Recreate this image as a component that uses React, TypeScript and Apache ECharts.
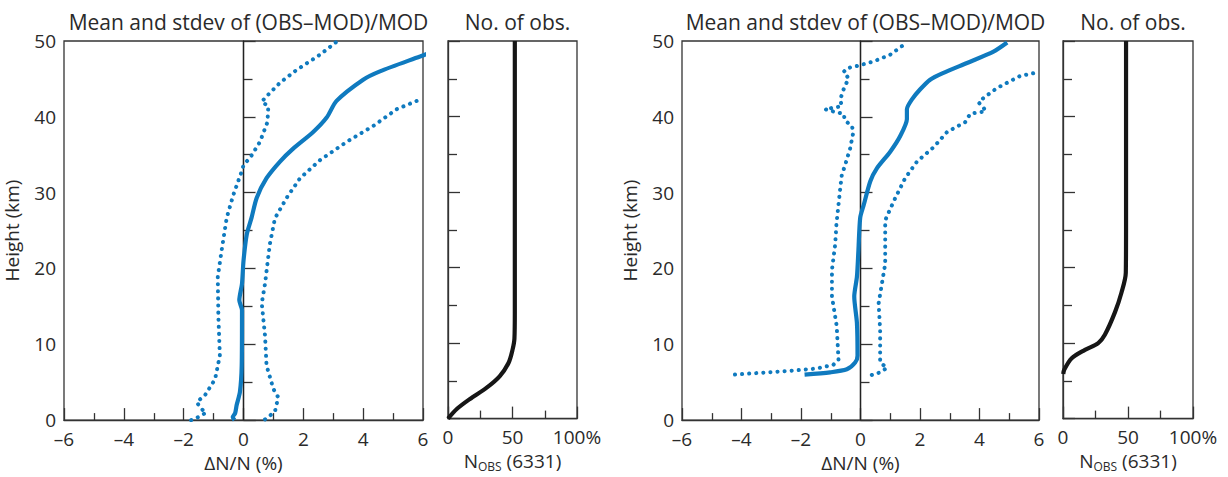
import React, { useEffect, useRef } from "react";
import * as echarts from "echarts";

// Heights in km, x in % (ΔN/N) or % of observations
const p1Mean: number[][] = [[-0.3,0],[-0.36,0.4],[-0.28,0.9],[-0.23,1.95],[-0.12,3.7],[-0.06,7.2],[-0.05,14.5],[-0.14,15.8],[-0.05,18],[0,21],[0.11,24.5],[0.27,26.7],[0.44,29.3],[0.77,31.9],[1.22,34.1],[1.66,35.8],[2.33,38],[2.78,39.9],[3.11,42.1],[4.0,44.9],[4.56,46],[5.9,47.96],[6.2,48.4]];
const p1StdLow: number[][] = [[-1.75,0],[-1.45,0.5],[-1.25,1.0],[-1.45,1.6],[-1.56,2.4],[-1.29,3.26],[-0.95,5.4],[-0.79,8.5],[-0.84,13.7],[-0.86,18.9],[-0.73,22.4],[-0.56,26.7],[-0.34,29.7],[-0.06,32.8],[0,33.6],[0.27,34.9],[0.55,36.7],[0.8,39.3],[0.83,41.4],[0.61,42],[0.77,42.7],[1.22,44.5],[1.78,46.2],[2.56,48.2],[3.11,49.9]];
const p1StdHigh: number[][] = [[0.72,0.1],[1.05,1.1],[1.16,3.0],[1.0,4.1],[0.77,7.2],[0.72,11.1],[0.61,15.4],[0.72,18],[0.88,23.2],[1.05,26.6],[1.44,29.3],[1.89,31.9],[2.56,34.3],[3.45,36.7],[4.34,38.8],[5.12,41],[5.79,42.1]];
const p2Nobs: number[][] = [[0,0],[7,1.3],[17,2.6],[30,4.1],[40,5.6],[47,7.4],[50,9.1],[51.5,10.6],[51.8,14],[51.8,50]];

const p3Mean: number[][] = [[-1.88,6.0],[-1.02,6.3],[-0.46,6.7],[-0.18,7.6],[-0.1,8.5],[-0.12,12.8],[-0.21,16.3],[-0.12,18.9],[-0.07,22.4],[-0.01,26.7],[0.11,28.4],[0.33,31.5],[0.55,33.2],[1.0,35.4],[1.34,37.5],[1.56,39.7],[1.56,41],[1.73,42.3],[2.0,43.6],[2.34,44.9],[2.79,45.8],[3.58,47.1],[4.47,48.6],[4.93,49.8]];
const p3StdLow: number[][] = [[-4.22,6.0],[-3.49,6.2],[-2.37,6.5],[-1.47,6.8],[-0.91,7.3],[-0.74,8.0],[-0.8,12.4],[-0.96,16.3],[-0.96,19.8],[-0.85,23.2],[-0.81,25.8],[-0.74,28.4],[-0.68,30.6],[-0.63,32.3],[-0.52,33.6],[-0.35,35.8],[-0.24,38],[-0.29,38.8],[-0.52,39.5],[-0.57,40.4],[-0.91,40.7],[-1.19,41],[-0.91,41.2],[-0.63,41.4],[-0.68,42.3],[-0.57,43.6],[-0.4,45.1],[-0.57,45.9],[-0.46,46.4],[-0.12,46.7],[0.44,47.3],[1.0,48.2],[1.56,49.8]];
const p3StdHigh: number[][] = [[0.38,5.95],[0.66,6.3],[0.89,6.9],[0.66,7.6],[0.66,11.9],[0.61,15.4],[0.72,18],[0.83,20.6],[0.83,26.3],[0.89,26.9],[1.17,29.3],[1.5,31.9],[1.9,34.1],[2.46,36],[2.91,38],[3.52,39.3],[3.69,40.4],[3.97,40.6],[4.2,40.7],[4.14,41.2],[3.97,41.9],[4.14,42.5],[4.59,43.8],[5.37,45.4],[5.88,45.8]];
const p4Nobs: number[][] = [[0.2,5.9],[1.0,6.5],[6.7,8.0],[16.9,9.1],[27.1,10.0],[32.2,11.1],[40,14.1],[45,16.7],[48.3,19.3],[48.5,25],[48.5,50]];

const titleMain = "Mean and stdev of (OBS\u2013MOD)/MOD";
const titleObs = "No. of obs.";
const xNameDev = "\u0394N/N (%)";
const yName = "Height (km)";

const FONT = "Open Sans";
const TXT = "#2a2a2a";
const AX = "#333";
const BLUE = "#0f7abf";
const BLACK = "#161616";
const FS = 19;

export default function App() {
  const ref = useRef<HTMLDivElement>(null);
  useEffect(() => {
    if (!ref.current) return;
    const chart = echarts.init(ref.current, null, { renderer: "svg" });
    const grids = [
      { left: 64, top: 41, width: 359, height: 384 },
      { left: 448, top: 41, width: 129, height: 384 },
      { left: 682, top: 41, width: 357, height: 384 },
      { left: 1063, top: 41, width: 130, height: 384 },
    ].map((g) => ({ ...g, show: true, borderColor: AX, borderWidth: 1.3, containLabel: false }));

    const minus = (v: number) => (v < 0 ? "\u2013" + Math.abs(v) : String(v));
    const axisCommon = {
      axisLine: { show: true, lineStyle: { color: AX, width: 1.3 } },
      axisTick: { show: true, inside: true, length: 12, lineStyle: { color: AX, width: 1.3 } },
      minorTick: { show: true, splitNumber: 2, length: 7, lineStyle: { color: AX, width: 1.3 } },
      splitLine: { show: false },
      minorSplitLine: { show: false },
      axisLabel: { color: TXT, fontSize: FS, fontFamily: FONT, lineHeight: 15 },
      nameTextStyle: { color: TXT, fontSize: FS, fontFamily: FONT },
    };
    const devX = (gi: number) => ({
      ...axisCommon,
      type: "value",
      gridIndex: gi,
      min: -6,
      max: 6,
      interval: 2,
      name: xNameDev,
      nameLocation: "middle",
      nameGap: 31,
      axisLabel: { ...axisCommon.axisLabel, margin: 11, formatter: minus },
    });
    const obsX = (gi: number) => ({
      ...axisCommon,
      type: "value",
      gridIndex: gi,
      min: 0,
      max: 100,
      interval: 50,
      minorTick: { ...axisCommon.minorTick, length: 8 },
      name: "{n|N}{s|OBS}{n| (6331)}",
      nameLocation: "middle",
      nameGap: 31,
      nameTextStyle: {
        ...axisCommon.nameTextStyle,
        rich: {
          n: { fontSize: FS, fontFamily: FONT, color: TXT },
          s: { fontSize: 12, fontFamily: FONT, color: TXT, padding: [10, 0, 0, 0] },
        },
      },
      axisLabel: { ...axisCommon.axisLabel, margin: 11, formatter: (v: number) => (v === 100 ? "100%" : String(v)) },
    });
    const hY = (gi: number, labels: boolean) => ({
      ...axisCommon,
      type: "value",
      gridIndex: gi,
      min: 0,
      max: 50,
      interval: 10,
      minorTick: { ...axisCommon.minorTick, length: 9 },
      name: labels ? yName : "",
      nameLocation: "middle",
      nameGap: 43,
      axisLabel: { ...axisCommon.axisLabel, show: labels, margin: 8 },
    });

    const meanS = (data: number[][], gi: number) => ({
      type: "line",
      xAxisIndex: gi,
      yAxisIndex: gi,
      data,
      showSymbol: false,
      smooth: 0.25,
      lineStyle: { color: BLUE, width: 4.2 },
      z: 3,
      markLine: {
        silent: true,
        symbol: ["none", "none"],
        label: { show: false },
        lineStyle: { color: "#222", width: 1.3, type: "solid" },
        data: [{ xAxis: 0 }],
        z: 1,
      },
    });
    const stdS = (data: number[][], gi: number) => ({
      type: "line",
      xAxisIndex: gi,
      yAxisIndex: gi,
      data,
      showSymbol: false,
      lineStyle: { color: BLUE, width: 4, type: [0.1, 7], cap: "round" },
      z: 3,
    });
    const obsS = (data: number[][], gi: number) => ({
      type: "line",
      xAxisIndex: gi,
      yAxisIndex: gi,
      data,
      showSymbol: false,
      smooth: 0.3,
      lineStyle: { color: BLACK, width: 4.2 },
      z: 3,
    });

    const titleStyle = { color: TXT, fontSize: 21, fontFamily: FONT, fontWeight: "normal" };
    chart.setOption({
      animation: false,
      title: [
        { text: titleMain, left: 243.5, top: 6, textAlign: "center", textStyle: titleStyle },
        { text: titleObs, left: 512.5, top: 6, textAlign: "center", textStyle: titleStyle },
        { text: titleMain, left: 860.5, top: 6, textAlign: "center", textStyle: titleStyle },
        { text: titleObs, left: 1128, top: 6, textAlign: "center", textStyle: titleStyle },
      ],
      grid: grids,
      xAxis: [devX(0), obsX(1), devX(2), obsX(3)],
      yAxis: [hY(0, true), hY(1, false), hY(2, true), hY(3, false)],
      series: [
        meanS(p1Mean, 0),
        stdS(p1StdLow, 0),
        stdS(p1StdHigh, 0),
        obsS(p2Nobs, 1),
        meanS(p3Mean, 2),
        stdS(p3StdLow, 2),
        stdS(p3StdHigh, 2),
        obsS(p4Nobs, 3),
      ],
    });
    return () => chart.dispose();
  }, []);
  return (
    <div
      ref={ref}
      style={{ position: "fixed", left: 0, top: 0, width: 1228, height: 477, background: "#fff" }}
    />
  );
}
